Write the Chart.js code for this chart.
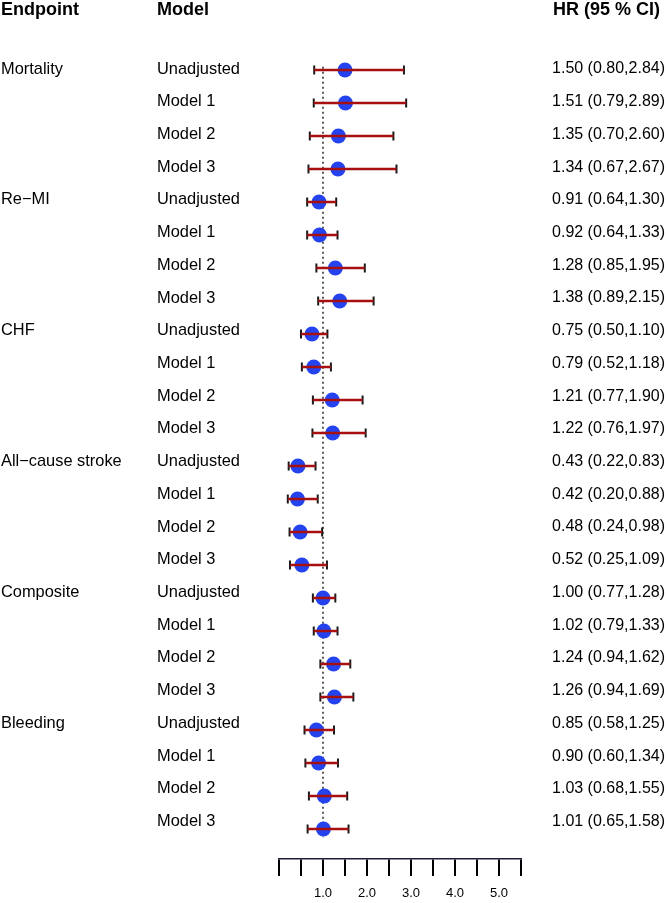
<!DOCTYPE html>
<html>
<head>
<meta charset="utf-8">
<script src="https://cdn.jsdelivr.net/npm/chart.js@4"></script>
<style>
  html, body { margin: 0; padding: 0; background: #fff; }
  #wrap { width: 666px; height: 903px; position: relative; }
</style>
</head>
<body>
<div id="wrap"><canvas id="c" width="666" height="903"></canvas></div>
<script>
// ---- data ----
const endpoints = ['Mortality', 'Re\u2212MI', 'CHF', 'All\u2212cause stroke', 'Composite', 'Bleeding'];
const models = ['Unadjusted', 'Model 1', 'Model 2', 'Model 3'];
const hr = [1.50, 1.51, 1.35, 1.34,
            0.91, 0.92, 1.28, 1.38,
            0.75, 0.79, 1.21, 1.22,
            0.43, 0.42, 0.48, 0.52,
            1.00, 1.02, 1.24, 1.26,
            0.85, 0.90, 1.03, 1.01];
const lo = [0.80, 0.79, 0.70, 0.67,
            0.64, 0.64, 0.85, 0.89,
            0.50, 0.52, 0.77, 0.76,
            0.22, 0.20, 0.24, 0.25,
            0.77, 0.79, 0.94, 0.94,
            0.58, 0.60, 0.68, 0.65];
const hi = [2.84, 2.89, 2.60, 2.67,
            1.30, 1.33, 1.95, 2.15,
            1.10, 1.18, 1.90, 1.97,
            0.83, 0.88, 0.98, 1.09,
            1.28, 1.33, 1.62, 1.69,
            1.25, 1.34, 1.55, 1.58];
const tickLabels = ['1.0', '2.0', '3.0', '4.0', '5.0'];
const headers = ['Endpoint', 'Model', 'HR (95 % CI)'];

const nRows = hr.length;
const rows = hr.map((_, i) => i);

const dotData = rows.map(i => ({x: hr[i], y: i}));
const capData = [];
const barData = [];
rows.forEach(i => {
  capData.push({x: lo[i], y: i}, {x: hi[i], y: i});
  barData.push({x: lo[i], y: i}, {x: hi[i], y: i}, {x: null, y: null});
});
const refData = [{x: 1, y: -0.1}, {x: 1, y: nRows - 1 + 0.25}];

const FONT = '"Liberation Sans", Arial, Helvetica, sans-serif';

const textPlugin = {
  id: 'textCols',
  afterDraw(chart) {
    const ctx = chart.ctx;
    ctx.save();
    ctx.fillStyle = '#000';
    ctx.textBaseline = 'middle';
    // headers
    ctx.font = 'bold 18px ' + FONT;
    ctx.textAlign = 'left';
    ctx.fillText(headers[0], 1, 10);
    ctx.fillText(headers[1], 157, 10);
    ctx.textAlign = 'right';
    ctx.fillText(headers[2], 660, 10);
    // rows
    const rowTop = 69, rowStep = 32.72;
    rows.forEach(i => {
      const y = rowTop + i * rowStep;
      ctx.font = '16.4px ' + FONT;
      ctx.textAlign = 'left';
      if (i % models.length === 0) ctx.fillText(endpoints[i / models.length], 1, y);
      ctx.fillText(models[i % models.length], 157, y);
      ctx.font = '16px ' + FONT;
      ctx.textAlign = 'right';
      ctx.fillText(hr[i].toFixed(2) + ' (' + lo[i].toFixed(2) + ',' + hi[i].toFixed(2) + ')', 665, y);
    });
    ctx.restore();
  }
};

new Chart(document.getElementById('c'), {
  type: 'scatter',
  data: {
    datasets: [
      { // red CI lines (top)
        data: barData, showLine: true, spanGaps: false,
        borderColor: '#a81010', borderWidth: 2.5, pointRadius: 0, order: 0
      },
      { // caps
        data: capData, showLine: false, pointStyle: 'line', rotation: 90,
        pointRadius: 4.5, borderColor: '#1a1a1a', borderWidth: 2,
        backgroundColor: '#1a1a1a', order: 1
      },
      { // dots
        data: dotData, showLine: false, pointStyle: 'circle', pointRadius: 7.5,
        backgroundColor: '#2443ee', borderWidth: 0, order: 2
      },
      { // reference line
        data: refData, showLine: true, pointRadius: 0,
        borderColor: '#333', borderWidth: 1.6, borderDash: [2, 3], order: 3
      }
    ]
  },
  options: {
    responsive: false,
    animation: false,
    events: [],
    layout: { padding: { left: 279, right: 145, top: 37, bottom: 0 } },
    plugins: { legend: { display: false }, tooltip: { enabled: false } },
    scales: {
      x: {
        type: 'linear', position: 'bottom', min: 0, max: 5.5,
        afterFit(scale) { scale.height = 44; },
        ticks: {
          stepSize: 0.5, autoSkip: false, maxRotation: 0, padding: 10,
          color: '#000', font: { family: FONT, size: 13 },
          callback(v) {
            const k = Math.round(v);
            return (Math.abs(v - k) < 1e-9 && k >= 1 && k <= tickLabels.length) ? tickLabels[k - 1] : '';
          }
        },
        grid: { drawOnChartArea: false, drawTicks: true, tickLength: 17, color: '#000', lineWidth: 2 },
        border: { display: true, color: '#1c1c3a', width: 1.5 }
      },
      y: {
        type: 'linear', display: false, reverse: true,
        min: -1, max: nRows - 1 + 30 / 33
      }
    }
  },
  plugins: [textPlugin]
});
</script>
</body>
</html>
